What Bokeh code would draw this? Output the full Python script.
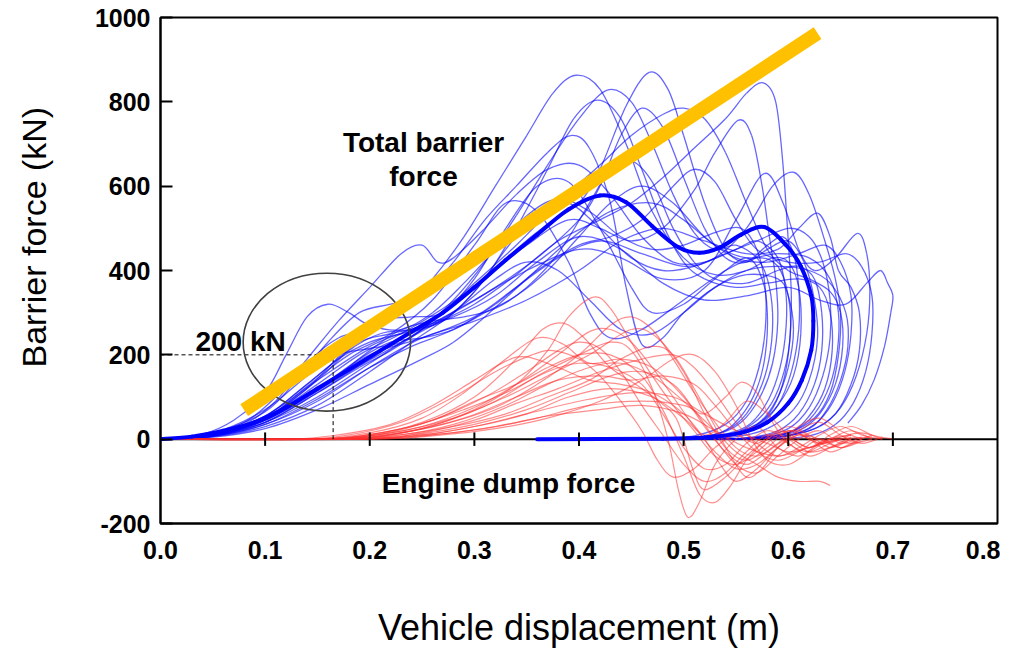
from bokeh.plotting import figure
from bokeh.models import Range1d, FixedTicker, PrintfTickFormatter, Label, Span, Title
from bokeh.embed import file_html
from bokeh.resources import INLINE

# ---------------- data ----------------
x_ticks = [0.0, 0.1, 0.2, 0.3, 0.4, 0.5, 0.6, 0.7, 0.8]
y_ticks = [-200, 0, 200, 400, 600, 800, 1000]
zero_ticks = [0.1, 0.2, 0.3, 0.4, 0.5, 0.6, 0.7]

blue_mean = [(0,0),(0.03,6),(0.06,20),(0.09,40),(0.12,75),(0.15,120),(0.18,165),(0.21,210),(0.24,255),
             (0.27,300),(0.3,360),(0.33,425),(0.36,485),(0.39,545),(0.42,578),(0.445,562),(0.47,505),
             (0.495,455),(0.515,442),(0.535,455),(0.555,485),(0.577,503),(0.598,460),(0.612,410),
             (0.622,340),(0.624,280),(0.622,211),(0.613,140),(0.6,85),(0.58,40),(0.555,15),(0.52,4),
             (0.48,1),(0.36,0)]

blue_01 = [(0,0),(0.04,8),(0.08,35),(0.11,90),(0.14,180),(0.17,240),(0.2,260),(0.23,300),(0.26,380),(0.29,480),(0.32,600),(0.35,720),(0.375,820),(0.397,863),(0.42,830),(0.445,700),(0.47,540),(0.5,430),(0.53,390),(0.56,400),(0.585,430),(0.6,420),(0.61,360),(0.612,250),(0.605,150),(0.59,80),(0.57,35),(0.54,10),(0.5,2),(0.42,0)]
blue_02 = [(0,0),(0.05,12),(0.1,55),(0.13,110),(0.16,170),(0.19,230),(0.22,250),(0.25,270),(0.28,320),(0.31,380),(0.34,450),(0.37,510),(0.4,560),(0.42,640),(0.445,790),(0.467,870),(0.485,830),(0.5,720),(0.52,560),(0.54,450),(0.56,420),(0.58,450),(0.6,470),(0.615,420),(0.625,330),(0.628,240),(0.62,140),(0.605,70),(0.58,25),(0.55,6),(0.5,0),(0.45,0)]
blue_03 = [(0,0),(0.05,10),(0.1,45),(0.14,100),(0.18,160),(0.22,215),(0.26,270),(0.3,320),(0.34,390),(0.38,470),(0.42,520),(0.45,560),(0.48,620),(0.51,690),(0.54,760),(0.56,820),(0.576,845),(0.588,800),(0.595,650),(0.6,470),(0.603,330),(0.6,200),(0.592,110),(0.578,50),(0.555,15),(0.52,3),(0.47,0)]
blue_04 = [(0,0),(0.05,15),(0.1,70),(0.14,150),(0.17,200),(0.2,215),(0.23,230),(0.26,280),(0.3,370),(0.34,460),(0.38,560),(0.42,650),(0.45,720),(0.48,770),(0.5,785),(0.52,760),(0.54,680),(0.56,560),(0.58,450),(0.6,400),(0.62,380),(0.64,350),(0.65,300),(0.652,220),(0.645,130),(0.63,60),(0.61,20),(0.58,5),(0.54,0)]
blue_05 = [(0,0),(0.05,8),(0.1,40),(0.15,110),(0.19,170),(0.22,210),(0.25,260),(0.28,330),(0.31,420),(0.34,530),(0.37,650),(0.4,760),(0.427,828),(0.45,800),(0.47,700),(0.49,580),(0.51,490),(0.53,450),(0.55,460),(0.57,430),(0.58,380),(0.585,300),(0.583,210),(0.575,130),(0.56,60),(0.54,20),(0.51,4),(0.46,0)]
blue_06 = [(0,0),(0.05,10),(0.1,50),(0.15,130),(0.19,200),(0.23,250),(0.27,310),(0.31,380),(0.35,460),(0.39,520),(0.42,500),(0.45,470),(0.48,500),(0.51,590),(0.53,680),(0.552,756),(0.565,720),(0.575,600),(0.582,480),(0.588,380),(0.59,280),(0.585,180),(0.573,100),(0.555,40),(0.53,10),(0.49,0)]
blue_07 = [(0,0),(0.05,14),(0.1,65),(0.13,140),(0.16,230),(0.19,300),(0.22,320),(0.25,340),(0.28,420),(0.31,520),(0.34,600),(0.37,680),(0.392,720),(0.41,690),(0.43,560),(0.445,360),(0.46,225),(0.48,240),(0.5,300),(0.53,360),(0.56,390),(0.59,380),(0.6,340),(0.605,260),(0.6,170),(0.588,90),(0.57,35),(0.54,8),(0.5,0)]
blue_08 = [(0,0),(0.05,6),(0.1,30),(0.15,80),(0.2,160),(0.24,230),(0.28,300),(0.31,380),(0.34,500),(0.37,640),(0.395,760),(0.418,804),(0.44,760),(0.46,640),(0.48,510),(0.5,420),(0.52,380),(0.55,360),(0.58,370),(0.61,380),(0.63,360),(0.64,300),(0.642,210),(0.635,120),(0.62,55),(0.6,15),(0.56,2),(0.52,0)]
blue_09 = [(0,0),(0.05,10),(0.1,45),(0.15,120),(0.2,200),(0.25,240),(0.3,290),(0.34,360),(0.38,430),(0.42,470),(0.46,440),(0.5,410),(0.53,430),(0.56,500),(0.585,600),(0.605,633),(0.62,580),(0.635,470),(0.645,380),(0.65,300),(0.648,200),(0.64,110),(0.625,50),(0.6,15),(0.56,2),(0.52,0)]
blue_10 = [(0,0),(0.05,9),(0.1,40),(0.15,100),(0.2,180),(0.25,260),(0.3,330),(0.35,400),(0.4,450),(0.44,430),(0.48,380),(0.52,400),(0.55,520),(0.577,630),(0.595,560),(0.61,450),(0.625,400),(0.645,430),(0.666,488),(0.675,440),(0.678,350),(0.675,250),(0.665,150),(0.65,75),(0.63,30),(0.6,8),(0.56,0)]
blue_11 = [(0,0),(0.05,12),(0.1,55),(0.15,140),(0.2,220),(0.24,260),(0.28,290),(0.32,340),(0.36,420),(0.4,480),(0.44,450),(0.48,370),(0.52,330),(0.56,340),(0.6,360),(0.63,330),(0.655,320),(0.675,370),(0.688,400),(0.695,370),(0.7,340),(0.698,300),(0.692,220),(0.682,140),(0.67,80),(0.657,38)]
blue_12 = [(0,0),(0.05,7),(0.1,35),(0.15,90),(0.2,170),(0.25,240),(0.3,280),(0.35,330),(0.4,400),(0.44,470),(0.48,500),(0.52,470),(0.56,440),(0.59,450),(0.61,500),(0.628,536),(0.64,480),(0.648,400),(0.66,360),(0.668,300),(0.668,210),(0.66,130),(0.645,60),(0.62,20),(0.58,3),(0.54,0)]
blue_13 = [(0,0),(0.05,10),(0.1,50),(0.14,120),(0.18,220),(0.21,280),(0.24,290),(0.27,300),(0.3,380),(0.33,500),(0.36,600),(0.39,610),(0.42,500),(0.45,360),(0.47,300),(0.5,320),(0.53,380),(0.56,430),(0.575,380),(0.58,300),(0.578,200),(0.57,120),(0.555,55),(0.535,15),(0.5,2),(0.45,0)]
blue_14 = [(0,0),(0.05,8),(0.1,40),(0.15,110),(0.2,190),(0.24,250),(0.28,300),(0.32,360),(0.36,430),(0.4,520),(0.42,600),(0.44,720),(0.46,785),(0.48,740),(0.5,620),(0.52,500),(0.54,430),(0.56,420),(0.58,460),(0.595,480),(0.605,440),(0.61,360),(0.61,260),(0.603,160),(0.59,80),(0.57,30),(0.54,6),(0.5,0)]
blue_15 = [(0,0),(0.04,10),(0.08,40),(0.11,100),(0.14,190),(0.17,280),(0.2,360),(0.23,440),(0.25,460),(0.265,420),(0.28,430),(0.31,500),(0.34,580),(0.37,640),(0.4,650),(0.43,580),(0.46,480),(0.49,420),(0.52,420),(0.55,450),(0.57,470),(0.59,430),(0.598,340),(0.597,240),(0.59,150),(0.578,80),(0.56,30),(0.53,7),(0.49,0)]
blue_16 = [(0,0),(0.05,5),(0.1,25),(0.15,70),(0.2,130),(0.25,190),(0.28,230),(0.31,290),(0.35,380),(0.39,470),(0.43,540),(0.47,560),(0.5,520),(0.53,460),(0.56,430),(0.59,440),(0.62,430),(0.64,380),(0.648,300),(0.647,210),(0.64,130),(0.625,60),(0.605,20),(0.57,3),(0.53,0)]
blue_17 = [(0,0),(0.04,12),(0.07,45),(0.1,110),(0.12,200),(0.14,290),(0.16,320),(0.18,300),(0.2,270),(0.23,260),(0.26,300),(0.29,370),(0.32,450),(0.35,530),(0.38,570),(0.41,540),(0.44,480),(0.47,450),(0.5,460),(0.53,490),(0.555,500),(0.57,450),(0.578,360),(0.578,260),(0.572,170),(0.56,90),(0.54,35),(0.51,8),(0.47,0)]
blue_18 = [(0,0),(0.05,9),(0.1,45),(0.15,120),(0.19,190),(0.22,230),(0.25,240),(0.28,260),(0.31,300),(0.34,340),(0.37,400),(0.4,480),(0.43,560),(0.46,600),(0.49,560),(0.52,480),(0.55,430),(0.58,420),(0.61,440),(0.635,460),(0.65,420),(0.66,340),(0.66,250),(0.654,160),(0.642,85),(0.625,35),(0.6,8),(0.56,0)]
blue_19 = [(0,0),(0.05,11),(0.1,55),(0.14,130),(0.17,190),(0.2,230),(0.23,250),(0.26,270),(0.29,320),(0.32,380),(0.35,420),(0.38,400),(0.41,330),(0.44,260),(0.47,250),(0.5,300),(0.53,360),(0.56,400),(0.59,410),(0.62,400),(0.64,370),(0.655,300),(0.657,220),(0.65,140),(0.637,70),(0.62,25),(0.59,5),(0.55,0)]
blue_20 = [(0,0),(0.05,7),(0.1,35),(0.15,95),(0.2,170),(0.24,220),(0.28,260),(0.32,320),(0.36,400),(0.4,460),(0.43,480),(0.46,520),(0.49,600),(0.51,640),(0.53,610),(0.55,520),(0.57,450),(0.6,420),(0.63,420),(0.655,440),(0.67,410),(0.68,340),(0.68,250),(0.674,160),(0.662,85),(0.645,35),(0.62,8),(0.58,0)]
blue_21 = [(0,0),(0.05,8),(0.1,45),(0.15,115),(0.2,210),(0.23,260),(0.26,280),(0.29,290),(0.32,310),(0.35,360),(0.38,440),(0.41,560),(0.43,640),(0.45,660),(0.47,610),(0.49,500),(0.51,420),(0.53,380),(0.56,370),(0.59,400),(0.61,410),(0.625,380),(0.632,300),(0.632,210),(0.625,130),(0.61,60),(0.59,20),(0.56,3),(0.52,0)]
blue_22 = [(0,0),(0.05,10),(0.1,50),(0.15,140),(0.18,210),(0.21,250),(0.24,260),(0.27,280),(0.3,350),(0.33,450),(0.36,540),(0.39,560),(0.42,500),(0.45,430),(0.48,400),(0.51,410),(0.54,440),(0.57,470),(0.6,500),(0.62,480),(0.633,420),(0.64,330),(0.64,240),(0.633,150),(0.62,75),(0.6,25),(0.57,5),(0.53,0)]
blue_23 = [(0,0),(0.05,9),(0.1,48),(0.14,125),(0.18,200),(0.22,250),(0.26,330),(0.3,460),(0.33,560),(0.36,540),(0.39,420),(0.41,300),(0.43,240),(0.46,260),(0.5,330),(0.54,400),(0.57,430),(0.59,410),(0.6,340),(0.602,250),(0.596,160),(0.584,85),(0.565,35),(0.54,8),(0.5,0)]

red_01 = [(0,0),(0.15,0),(0.2,5),(0.25,25),(0.3,70),(0.34,130),(0.37,210),(0.39,290),(0.414,337),(0.43,310),(0.45,230),(0.47,150),(0.49,80),(0.51,20),(0.53,-40),(0.55,-60),(0.57,-30),(0.59,10),(0.61,20),(0.63,-10),(0.65,5),(0.67,15),(0.69,0)]
red_02 = [(0,0),(0.14,0),(0.2,10),(0.25,40),(0.3,100),(0.34,190),(0.365,260),(0.385,275),(0.405,240),(0.43,170),(0.46,120),(0.49,60),(0.5,0),(0.51,-80),(0.52,-120),(0.54,-90),(0.56,-40),(0.58,0),(0.6,30),(0.62,10),(0.64,-20),(0.66,0)]
red_03 = [(0,0),(0.16,0),(0.22,10),(0.27,40),(0.32,90),(0.36,150),(0.4,200),(0.43,230),(0.45,210),(0.47,120),(0.485,0),(0.495,-120),(0.504,-185),(0.515,-150),(0.53,-60),(0.55,0),(0.57,30),(0.59,-20),(0.61,-40),(0.63,-10),(0.65,10)]
red_04 = [(0,0),(0.15,0),(0.22,15),(0.28,50),(0.33,100),(0.37,150),(0.41,200),(0.45,260),(0.475,240),(0.5,160),(0.52,60),(0.54,-20),(0.56,-50),(0.58,-20),(0.6,20),(0.62,0),(0.64,-30),(0.66,-10),(0.68,10)]
red_05 = [(0,0),(0.17,0),(0.24,10),(0.3,35),(0.35,70),(0.39,110),(0.43,150),(0.46,160),(0.49,130),(0.51,70),(0.53,0),(0.55,-60),(0.57,-80),(0.59,-40),(0.61,0),(0.63,20),(0.65,-10),(0.67,5)]
red_06 = [(0,0),(0.12,0),(0.17,10),(0.22,35),(0.26,80),(0.3,140),(0.33,185),(0.35,195),(0.38,170),(0.41,140),(0.44,130),(0.47,110),(0.5,60),(0.52,0),(0.535,-60),(0.55,-100),(0.57,-70),(0.59,-20),(0.61,10),(0.63,-10),(0.65,0)]
red_07 = [(0,0),(0.16,0),(0.22,8),(0.28,30),(0.33,60),(0.37,100),(0.41,140),(0.44,190),(0.47,220),(0.49,200),(0.51,120),(0.53,30),(0.545,-40),(0.56,-90),(0.575,-70),(0.59,-20),(0.61,20),(0.63,40),(0.65,10),(0.67,-10),(0.69,5)]
red_08 = [(0,0),(0.15,0),(0.21,12),(0.26,45),(0.31,100),(0.35,160),(0.38,210),(0.4,230),(0.42,215),(0.44,160),(0.46,80),(0.48,10),(0.5,-60),(0.52,-100),(0.54,-80),(0.56,-30),(0.58,10),(0.6,-10),(0.62,-40),(0.64,-20),(0.66,5)]
red_09 = [(0,0),(0.14,0),(0.2,15),(0.25,50),(0.29,110),(0.33,190),(0.36,240),(0.385,225),(0.41,180),(0.44,190),(0.47,170),(0.5,100),(0.52,30),(0.54,-30),(0.56,-60),(0.58,-30),(0.6,0),(0.62,-20),(0.64,0),(0.66,10)]
red_10 = [(0,0),(0.18,0),(0.25,10),(0.3,30),(0.35,60),(0.4,90),(0.45,110),(0.49,100),(0.52,60),(0.55,20),(0.58,-10),(0.6,-30),(0.62,-20),(0.64,0),(0.66,-10),(0.68,0)]
red_11 = [(0,0),(0.16,0),(0.22,12),(0.27,35),(0.32,75),(0.36,130),(0.4,200),(0.43,270),(0.45,290),(0.47,260),(0.49,190),(0.51,110),(0.53,40),(0.55,-20),(0.57,-40),(0.59,-10),(0.61,30),(0.63,50),(0.65,20),(0.67,0)]
red_12 = [(0,0),(0.17,0),(0.23,10),(0.28,35),(0.33,80),(0.37,130),(0.41,170),(0.44,180),(0.47,150),(0.5,90),(0.53,20),(0.55,-30),(0.57,-60),(0.59,-90),(0.61,-100),(0.63,-100),(0.64,-110)]
red_13 = [(0,0),(0.15,0),(0.21,15),(0.26,45),(0.3,90),(0.34,130),(0.37,170),(0.4,200),(0.43,200),(0.46,150),(0.48,70),(0.5,-40),(0.515,-130),(0.53,-150),(0.545,-110),(0.56,-50),(0.58,0),(0.6,20),(0.62,0)]
red_14 = [(0,0),(0.19,0),(0.25,15),(0.3,45),(0.34,85),(0.38,120),(0.42,160),(0.46,190),(0.49,200),(0.51,170),(0.53,110),(0.55,40),(0.57,-10),(0.59,-40),(0.61,-20),(0.63,10),(0.65,30),(0.67,10),(0.69,0)]
red_15 = [(0,0),(0.18,0),(0.25,8),(0.31,25),(0.36,50),(0.41,80),(0.46,90),(0.5,80),(0.52,60),(0.54,100),(0.555,135),(0.57,110),(0.585,40),(0.6,-10),(0.62,-30),(0.64,-10),(0.66,10)]
red_16 = [(0,0),(0.15,0),(0.2,8),(0.25,30),(0.3,75),(0.34,130),(0.38,200),(0.41,255),(0.43,260),(0.45,230),(0.47,170),(0.49,100),(0.51,30),(0.53,-30),(0.55,-70),(0.57,-60),(0.59,-20),(0.61,10),(0.63,0),(0.65,-20),(0.67,0)]
red_17 = [(0,0),(0.2,0),(0.26,10),(0.32,30),(0.37,55),(0.42,70),(0.46,80),(0.5,60),(0.53,20),(0.56,-20),(0.59,-40),(0.62,-20),(0.65,0),(0.68,5)]
red_18 = [(0,0),(0.13,0),(0.18,10),(0.23,40),(0.28,100),(0.32,160),(0.355,200),(0.375,210),(0.4,190),(0.42,150),(0.44,90),(0.46,20),(0.475,-50),(0.49,-90),(0.51,-70),(0.53,-20),(0.55,10),(0.57,-10),(0.59,20),(0.61,0)]
red_19 = [(0,0),(0.17,0),(0.23,15),(0.29,50),(0.34,100),(0.38,140),(0.42,150),(0.45,140),(0.48,150),(0.51,130),(0.53,80),(0.55,20),(0.57,-30),(0.59,-50),(0.61,-30),(0.63,0),(0.65,-20),(0.67,-5)]
red_20 = [(0,0),(0.2,0),(0.26,8),(0.32,25),(0.37,50),(0.42,90),(0.46,140),(0.49,190),(0.51,200),(0.53,160),(0.55,80),(0.565,0),(0.58,-50),(0.6,-60),(0.62,-30),(0.64,0),(0.66,20),(0.68,0)]
red_21 = [(0,0),(0.14,0),(0.19,8),(0.24,30),(0.29,70),(0.33,110),(0.37,160),(0.4,180),(0.43,170),(0.46,130),(0.48,60),(0.5,-20),(0.52,-70),(0.54,-60),(0.56,-10),(0.58,20),(0.6,0),(0.62,-30),(0.64,-20),(0.66,0)]
red_22 = [(0,0),(0.19,0),(0.25,10),(0.3,30),(0.35,60),(0.39,100),(0.43,120),(0.47,100),(0.5,50),(0.52,10),(0.54,40),(0.56,90),(0.58,60),(0.6,10),(0.62,-20),(0.64,10),(0.66,30),(0.68,10),(0.7,0)]

blue_curves = [blue_01, blue_02, blue_03, blue_04, blue_05, blue_06, blue_07, blue_08, blue_09, blue_10, blue_11,
               blue_12, blue_13, blue_14, blue_15, blue_16, blue_17, blue_18, blue_19, blue_20, blue_21, blue_22,
               blue_23]
red_curves = [red_01, red_02, red_03, red_04, red_05, red_06, red_07, red_08, red_09, red_10, red_11,
              red_12, red_13, red_14, red_15, red_16, red_17, red_18, red_19, red_20, red_21, red_22]

trend_x = [0.080, 0.628]
trend_y = [69, 963]
circle_center = (0.159, 230)
circle_size = (0.160, 327)
ref_disp = 0.165
ref_force = 200

FONT = "Liberation Sans, Arial, sans-serif"


def bezier_segments(curves):
    """Smooth drawing path through the read points (Catmull-Rom -> cubic Bezier)."""
    out = {k: [] for k in ("x0", "y0", "x1", "y1", "cx0", "cy0", "cx1", "cy1")}
    for pts in curves:
        n = len(pts)
        for i in range(n - 1):
            p0 = pts[i - 1] if i > 0 else pts[i]
            p1 = pts[i]
            p2 = pts[i + 1]
            p3 = pts[i + 2] if i + 2 < n else pts[i + 1]
            out["x0"].append(p1[0]); out["y0"].append(p1[1])
            out["x1"].append(p2[0]); out["y1"].append(p2[1])
            out["cx0"].append(p1[0] + (p2[0] - p0[0]) / 6.0)
            out["cy0"].append(p1[1] + (p2[1] - p0[1]) / 6.0)
            out["cx1"].append(p2[0] - (p3[0] - p1[0]) / 6.0)
            out["cy1"].append(p2[1] - (p3[1] - p1[1]) / 6.0)
    return out


# ---------------- figure ----------------
p = figure(width=1000, height=650, output_backend="svg", toolbar_location=None,
           x_range=Range1d(0, 0.8), y_range=Range1d(-200, 1000),
           min_border_left=160, min_border_right=3, min_border_top=17, min_border_bottom=127)
p.background_fill_color = "white"
p.border_fill_color = "white"
p.outline_line_color = "black"
p.outline_line_width = 2
p.outline_line_alpha = 1
p.xgrid.visible = False
p.ygrid.visible = False

p.yaxis.ticker = FixedTicker(ticks=y_ticks)
p.yaxis.major_label_overrides = {t: str(t) for t in y_ticks}
p.yaxis.major_tick_in = 12
p.yaxis.major_tick_out = 0
p.yaxis.minor_tick_line_color = None
p.yaxis.major_tick_line_width = 2
p.yaxis.axis_line_width = 2
p.yaxis.major_label_text_font = FONT
p.yaxis.major_label_text_font_size = "25px"
p.yaxis.major_label_text_font_style = "bold"
p.yaxis.major_label_text_color = "black"
p.yaxis.major_label_standoff = 10
# blank spacer label: pushes the rotated title further from the tick labels
p.yaxis.axis_label = " "
p.yaxis.axis_label_text_font_size = "1px"
p.yaxis.axis_label_standoff = 25

p.xaxis.ticker = FixedTicker(ticks=x_ticks)
p.xaxis.formatter = PrintfTickFormatter(format="%.1f")
p.xaxis.major_tick_in = 0
p.xaxis.major_tick_out = 0
p.xaxis.minor_tick_line_color = None
p.xaxis.axis_line_width = 2
p.xaxis.major_label_text_font = FONT
p.xaxis.major_label_text_font_size = "25px"
p.xaxis.major_label_text_font_style = "bold"
p.xaxis.major_label_text_color = "black"
p.xaxis.major_label_standoff = 17
p.xaxis.axis_label = "Vehicle displacement (m)"
p.xaxis.axis_label_text_font = FONT
p.xaxis.axis_label_text_font_size = "36px"
p.xaxis.axis_label_text_font_style = "normal"
p.xaxis.axis_label_text_color = "black"
p.xaxis.axis_label_standoff = 45

p.add_layout(Title(text="Barrier force (kN)", align="left", offset=156, standoff=20,
                   text_font=FONT, text_font_size="34px", text_font_style="normal",
                   text_color="black"), "left")

# zero line
p.add_layout(Span(location=0, dimension="width", line_color="black", line_width=2, level="underlay"))

b = bezier_segments(blue_curves)
p.bezier(x0=b["x0"], y0=b["y0"], x1=b["x1"], y1=b["y1"], cx0=b["cx0"], cy0=b["cy0"], cx1=b["cx1"], cy1=b["cy1"],
         line_color="#0000ff", line_alpha=0.6, line_width=1.3, line_cap="butt")
r = bezier_segments(red_curves)
p.bezier(x0=r["x0"], y0=r["y0"], x1=r["x1"], y1=r["y1"], cx0=r["cx0"], cy0=r["cy0"], cx1=r["cx1"], cy1=r["cy1"],
         line_color="#ff3030", line_alpha=0.55, line_width=1.2, line_cap="butt")
m = bezier_segments([blue_mean])
p.bezier(x0=m["x0"], y0=m["y0"], x1=m["x1"], y1=m["y1"], cx0=m["cx0"], cy0=m["cy0"], cx1=m["cx1"], cy1=m["cy1"],
         line_color="#0000ff", line_width=4, line_cap="round")

# ticks on zero line
p.segment(x0=zero_ticks, y0=[-16] * len(zero_ticks), x1=zero_ticks, y1=[16] * len(zero_ticks),
          line_color="black", line_width=2)

# dashed reference lines
p.line([0, ref_disp], [ref_force, ref_force], line_color="black", line_width=1, line_dash="4 3")
p.line([ref_disp, ref_disp], [0, ref_force], line_color="black", line_width=1, line_dash="4 3")

# ellipse
p.ellipse(x=[circle_center[0]], y=[circle_center[1]], width=circle_size[0], height=circle_size[1],
          fill_color=None, line_color="#404040", line_width=1.6)

# yellow trend bar
p.line(trend_x, trend_y, line_color="#FFC000", line_width=14, line_cap="butt")


def lab(x, y, t):
    p.add_layout(Label(x=x, y=y, text=t, text_font=FONT, text_font_size="28px", text_font_style="bold",
                       text_align="center", text_baseline="alphabetic", text_color="black"))


lab(0.2514, 704, "Total barrier")
lab(0.2514, 624, "force")
lab(0.0765, 232, "200 kN")
lab(0.3326, -104, "Engine dump force")

open("out.html", "w").write(file_html(p, INLINE))
